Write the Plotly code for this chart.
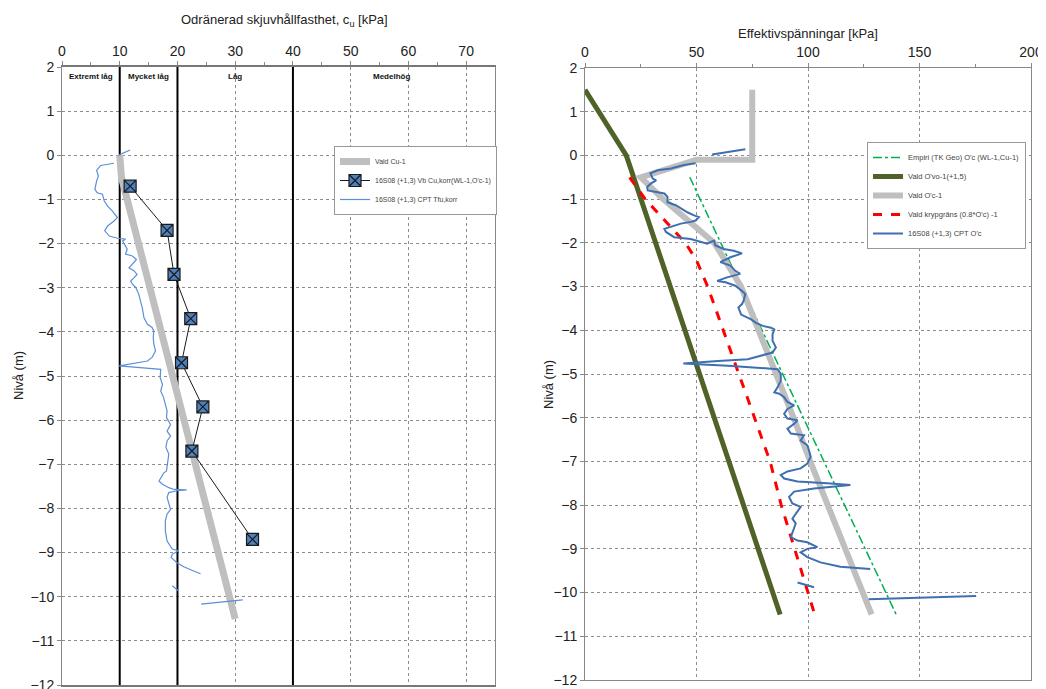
import plotly.graph_objects as go

FONT = "Arial, Liberation Sans, sans-serif"

# ---------------- Left panel data ----------------
class_bounds = [10, 20, 40]
class_labels = ["Extremt låg", "Mycket låg", "Låg", "Medelhög"]
class_label_x = [5, 15, 30, 57]

cu_vald_x = [10, 10.3, 30]
cu_vald_y = [0, -0.5, -10.5]

vb_x = [11.8, 18.2, 19.4, 22.3, 20.7, 24.4, 22.5, 33.0]
vb_y = [-0.7, -1.7, -2.7, -3.7, -4.7, -5.7, -6.7, -8.7]

cpt_tfu_x = [9.9, 11.8, None,
             9.0, 6.7, 6.0, 6.3, 6.0, 5.7, 6.1, 7.0, 7.3, 7.9, 8.7, 9.6, 9.0, 7.9, 7.4, 8.2, 9.6, 11.0,
             10.5, 10.9, 11.3, 11.0, 12.2, 12.9, 12.2, 11.6, 12.5, 13.0, 12.5, 11.9, 12.2, 12.8, 13.3, 13.6,
             13.9, 14.2, 14.8, 15.6, 15.9, 15.8, 15.9, 16.2, 15.6, 14.8, 9.9, 17.1, 17.0, 17.4, 17.1, 17.6,
             17.9, 18.2, 18.1, 18.8, 18.2, 18.8, 18.2, 18.0, 18.5, 18.2, 18.1, 17.6, 16.8, 17.4, 18.5, 19.4,
             21.6, 19.9, 18.5, 18.2, 18.5, 18.8, 18.2, 17.9, 17.9, 18.2, 19.1, 20.2, 19.1, 18.9, 19.9, 21.1,
             22.5, 24.0, None,
             19.1, 20.2, None,
             24.1, 31.3]
cpt_tfu_y = [0.01, 0.12, None,
             -0.18, -0.23, -0.34, -0.47, -0.58, -0.77, -0.85, -0.88, -1.03, -1.15, -1.26, -1.41, -1.49, -1.60,
             -1.71, -1.83, -1.88, -1.90, -1.94, -2.05, -2.13, -2.24, -2.28, -2.36, -2.47, -2.55, -2.62, -2.70,
             -2.77, -2.85, -2.92, -3.00, -3.15, -3.30, -3.45, -3.68, -3.83, -3.90, -3.98, -4.13, -4.28, -4.43,
             -4.58, -4.66, -4.77, -4.85, -5.04, -5.19, -5.34, -5.49, -5.64, -5.79, -5.94, -6.10, -6.25, -6.36,
             -6.47, -6.62, -6.77, -7.00, -7.15, -7.20, -7.38, -7.45, -7.53, -7.57, -7.58, -7.60, -7.64, -7.75,
             -7.91, -8.02, -8.13, -8.28, -8.51, -8.74, -8.92, -8.96, -9.04, -9.11, -9.23, -9.32, -9.40, -9.48,
             None,
             -9.75, -9.87, None,
             -10.17, -10.07]

# ---------------- Right panel data ----------------
empiri_x = [47, 140]
empiri_y = [-0.5, -10.55]

ovo_x = [0, 18.5, 20.5, 87.5]
ovo_y = [1.5, 0.0, -0.3, -10.5]

oc_x = [75, 75, 50, 25, 35, 47, 58, 70, 78, 86, 93.5, 101, 109, 117, 124.5, 128.5]
oc_y = [1.5, -0.1, -0.1, -0.5, -1.0, -1.5, -2.0, -3.0, -4.0, -5.0, -6.0, -7.0, -8.0, -9.0, -10.0, -10.5]

kryp_x = [20, 27, 36, 45, 50, 55, 62, 69, 76, 83, 88, 94, 100, 103]
kryp_y = [-0.5, -1.0, -1.5, -2.0, -2.4, -3.0, -4.0, -5.0, -6.0, -7.0, -8.0, -9.0, -10.0, -10.5]

cpt_oc_x = [57, 71.9, None,
            49.6, 44.4, 38.5, 32.6, 29.3, 30.4, 31.9, 29.6, 27.9, 28.1, 32.6, 35.6, 37.0, 37.0, 40.7, 45.9,
            48.9, 51.1, 49.6, 47.4, 43.0, 38.5, 35.6, 36.3, 40.0, 47.4, 50.4, 54.8, 57.8, 58.5, 62.2, 66.7,
            70.4, 65.2, 60.7, 65.2, 67.4, 69.6, 63.7, 59.3, 63.0, 67.4, 70.4, 71.9, 71.1, 70.4, 68.8, 70.0,
            74.5, 76.7, 79.7, 83.4, 84.9, 84.1, 84.1, 85.6, 84.1, 78.9, 73.0, 59.6, 44.1, 64.1, 86.4, 87.8,
            87.8, 86.4, 84.9, 87.1, 89.3, 90.8, 93.8, 90.8, 89.3, 90.8, 95.3, 93.8, 90.8, 92.3, 98.2, 96.7,
            99.7, 100.4, 101.2, 99.7, 96.7, 90.8, 87.8, 89.3, 95.3, 108.6, 119.0, 102.7, 93.8, 91.5, 93.0,
            96.7, 95.3, 93.0, 94.5, 93.0, 92.3, 95.3, 99.7, 104.2, 99.7, 96.7, 99.7, 105.6, 114.5, 127.9,
            None,
            95.3, 102.7, None,
            127.2, 175.4]
cpt_oc_y = [0.02, 0.14, None,
            -0.18, -0.22, -0.30, -0.34, -0.41, -0.53, -0.57, -0.64, -0.72, -0.80, -0.84, -0.87, -0.95, -1.07,
            -1.14, -1.30, -1.37, -1.41, -1.49, -1.52, -1.56, -1.64, -1.68, -1.75, -1.87, -1.91, -1.95, -2.02,
            -1.95, -2.06, -2.14, -2.18, -2.24, -2.33, -2.44, -2.52, -2.64, -2.71, -2.79, -2.87, -2.90, -2.98,
            -3.10, -3.17, -3.33, -3.40, -3.48, -3.64, -3.75, -3.83, -3.90, -3.94, -3.98, -4.09, -4.24, -4.39,
            -4.51, -4.58, -4.66, -4.70, -4.76, -4.81, -4.89, -5.00, -5.15, -5.30, -5.42, -5.45, -5.53, -5.64,
            -5.72, -5.80, -5.91, -6.02, -6.06, -6.14, -6.25, -6.36, -6.40, -6.52, -6.63, -6.74, -6.89, -7.05,
            -7.16, -7.23, -7.31, -7.39, -7.46, -7.50, -7.54, -7.62, -7.69, -7.81, -7.96, -8.04, -8.15, -8.31,
            -8.42, -8.62, -8.73, -8.81, -8.85, -8.96, -9.00, -9.08, -9.19, -9.31, -9.41, -9.46,
            None,
            -9.77, -9.88, None,
            -10.15, -10.08]

y_ticks = list(range(-12, 3))

fig = go.Figure()

# class boundary lines (left)
for b in class_bounds:
    fig.add_trace(go.Scatter(x=[b, b], y=[-12, 2], mode="lines", line=dict(color="black", width=2),
                             showlegend=False, hoverinfo="skip", xaxis="x", yaxis="y"))

fig.add_trace(go.Scatter(x=cu_vald_x, y=cu_vald_y, mode="lines", name="Vald Cu-1",
                         line=dict(color="#bfbfbf", width=7), xaxis="x", yaxis="y", legend="legend"))
fig.add_trace(go.Scatter(x=vb_x, y=vb_y, mode="lines+markers",
                         name="16S08 (+1,3) Vb Cu,korr(WL-1,O'c-1)",
                         line=dict(color="#1a1a1a", width=1),
                         marker=dict(symbol="square-x", size=12, color="#4f81bd",
                                     line=dict(color="#1a1a1a", width=1.2)),
                         xaxis="x", yaxis="y", legend="legend"))
fig.add_trace(go.Scatter(x=cpt_tfu_x, y=cpt_tfu_y, mode="lines", name="16S08 (+1,3) CPT Tfu,korr",
                         line=dict(color="#5b8fd8", width=1.2), connectgaps=False,
                         xaxis="x", yaxis="y", legend="legend"))

# right panel
fig.add_trace(go.Scatter(x=empiri_x, y=empiri_y, mode="lines", name="Empiri (TK Geo) O'c (WL-1,Cu-1)",
                         line=dict(color="#00b050", width=1.5, dash="dashdot"),
                         xaxis="x2", yaxis="y2", legend="legend2"))
fig.add_trace(go.Scatter(x=ovo_x, y=ovo_y, mode="lines", name="Vald O'vo-1(+1,5)",
                         line=dict(color="#4f6228", width=5),
                         xaxis="x2", yaxis="y2", legend="legend2"))
fig.add_trace(go.Scatter(x=oc_x, y=oc_y, mode="lines", name="Vald O'c-1",
                         line=dict(color="#bfbfbf", width=6),
                         xaxis="x2", yaxis="y2", legend="legend2"))
fig.add_trace(go.Scatter(x=kryp_x, y=kryp_y, mode="lines", name="Vald krypgräns (0.8*O'c) -1",
                         line=dict(color="#ff0000", width=3, dash="dash"),
                         xaxis="x2", yaxis="y2", legend="legend2"))
fig.add_trace(go.Scatter(x=cpt_oc_x, y=cpt_oc_y, mode="lines", name="16S08 (+1,3) CPT O'c",
                         line=dict(color="#3e6fb0", width=2), connectgaps=False,
                         xaxis="x2", yaxis="y2", legend="legend2"))

W, H = 1046, 689
OFF = 8  # page body margin offset


def px_x(p):
    return (p - OFF) / W


def px_y(p):
    return 1 - (p - OFF) / H


tickfont = dict(family=FONT, size=14, color="#222")
common_y = dict(range=[-12, 2], tickvals=y_ticks, showgrid=True, gridcolor="#8c8c8c", griddash="dot",
                gridwidth=1, zeroline=False, showline=True, linecolor="#888", linewidth=1, mirror=True,
                ticks="outside", ticklen=4, tickcolor="#888", tickfont=tickfont,
                title=None, automargin=False)

fig.update_layout(
    template="none",
    width=W, height=H, margin=dict(l=0, r=0, t=0, b=0, autoexpand=False),
    paper_bgcolor="white", plot_bgcolor="white",
    font=dict(family=FONT),
    xaxis=dict(domain=[px_x(62), px_x(495)], range=[0, 75], side="top", anchor="y",
               tickvals=[0, 10, 20, 30, 40, 50, 60, 70], showgrid=True, gridcolor="#8c8c8c", griddash="dot",
               zeroline=False, showline=True, linecolor="#777", linewidth=1.5, mirror=True,
               ticks="outside", ticklen=4, tickcolor="#888", tickfont=tickfont, automargin=False,
               minor=dict(tickvals=[5, 15, 25, 35, 45, 55, 65], ticks="outside", ticklen=3,
                          tickcolor="#888", showgrid=False)),
    yaxis=dict(domain=[px_y(685), px_y(67)], anchor="x", **common_y),
    xaxis2=dict(domain=[px_x(585), px_x(1031)], range=[0, 200], side="top", anchor="y2",
                tickvals=[0, 50, 100, 150, 200], showgrid=True, gridcolor="#8c8c8c", griddash="dot",
                zeroline=False, showline=True, linecolor="#888", linewidth=1, mirror=True,
                ticks="outside", ticklen=4, tickcolor="#888", tickfont=tickfont, automargin=False,
                minor=dict(tickvals=[25, 75, 125, 175], ticks="outside", ticklen=3,
                           tickcolor="#888", showgrid=False)),
    yaxis2=dict(domain=[px_y(680), px_y(68)], anchor="x2", **common_y),
    legend=dict(x=px_x(334), y=px_y(146), xanchor="left", yanchor="top",
                bgcolor="white", bordercolor="#999", borderwidth=1,
                font=dict(family=FONT, size=7, color="#444"), tracegroupgap=0, itemwidth=30),
    legend2=dict(x=px_x(867), y=px_y(142), xanchor="left", yanchor="top",
                 bgcolor="white", bordercolor="#999", borderwidth=1,
                 font=dict(family=FONT, size=7.5, color="#444"), tracegroupgap=0, itemwidth=30),
    showlegend=True,
)

annotations = []
for lab, lx in zip(class_labels, class_label_x):
    annotations.append(dict(x=lx, y=1.78, xref="x", yref="y", text="<b>" + lab + "</b>", showarrow=False,
                            xanchor="center", yanchor="middle",
                            font=dict(family=FONT, size=8, color="#111")))
annotations += [
    dict(x=px_x(284), y=px_y(20), xref="paper", yref="paper", xanchor="center", yanchor="middle",
         text="Odränerad skjuvhållfasthet, c<sub>u</sub> [kPa]", showarrow=False,
         font=dict(family=FONT, size=13, color="#222")),
    dict(x=px_x(808), y=px_y(33), xref="paper", yref="paper", xanchor="center", yanchor="middle",
         text="Effektivspänningar [kPa]", showarrow=False,
         font=dict(family=FONT, size=13, color="#222")),
    dict(x=px_x(18), y=px_y(376), xref="paper", yref="paper", text="Nivå (m)", textangle=-90,
         xanchor="center", yanchor="middle",
         showarrow=False, font=dict(family=FONT, size=13, color="#222")),
    dict(x=px_x(548), y=px_y(385), xref="paper", yref="paper", text="Nivå (m)", textangle=-90,
         xanchor="center", yanchor="middle",
         showarrow=False, font=dict(family=FONT, size=13, color="#222")),
]
fig.update_layout(annotations=annotations)

fig.write_html("out.html")
